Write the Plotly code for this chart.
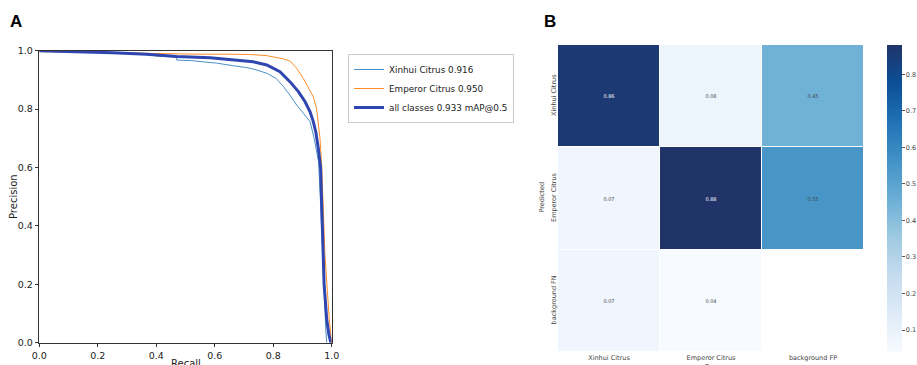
import plotly.graph_objects as go

W, H = 917, 365

# ---------------- Panel A data: PR curves ----------------
xinhui_recall = [0.0, 0.13, 0.25, 0.37, 0.40, 0.47, 0.47, 0.52, 0.55, 0.61, 0.66, 0.71, 0.74, 0.78,
                 0.81, 0.835, 0.857, 0.88, 0.903, 0.926, 0.94, 0.948, 0.955, 0.96, 0.965, 0.97,
                 0.975, 0.98, 0.983]
xinhui_precision = [0.998, 0.996, 0.993, 0.988, 0.982, 0.978, 0.968, 0.966, 0.963, 0.957, 0.949,
                    0.942, 0.935, 0.922, 0.905, 0.877, 0.848, 0.814, 0.786, 0.757, 0.70, 0.66,
                    0.62, 0.52, 0.40, 0.22, 0.12, 0.04, 0.0]

emperor_recall = [0.0, 0.13, 0.25, 0.37, 0.47, 0.55, 0.65, 0.72, 0.778, 0.81, 0.835, 0.857, 0.88,
                  0.903, 0.92, 0.937, 0.948, 0.954, 0.96, 0.966, 0.971, 0.977, 0.985, 0.992, 1.0]
emperor_precision = [0.997, 0.996, 0.994, 0.991, 0.988, 0.988, 0.988, 0.987, 0.983, 0.978, 0.972,
                     0.965, 0.94, 0.905, 0.871, 0.842, 0.803, 0.745, 0.70, 0.60, 0.466, 0.30,
                     0.18, 0.078, 0.0]

all_recall = [0.0, 0.128, 0.25, 0.367, 0.47, 0.584, 0.664, 0.732, 0.778, 0.823, 0.857, 0.886,
              0.909, 0.926, 0.937, 0.946, 0.955, 0.962, 0.968, 0.974, 0.983, 0.99, 0.997]
all_precision = [1.0, 0.997, 0.993, 0.988, 0.98, 0.976, 0.968, 0.962, 0.951, 0.928, 0.894, 0.86,
                 0.825, 0.791, 0.757, 0.72, 0.66, 0.6, 0.4, 0.2, 0.08, 0.03, 0.0]

series_labels = ["Xinhui Citrus 0.916", "Emperor Citrus 0.950", "all classes 0.933 mAP@0.5"]
axis_ticks = [0.0, 0.2, 0.4, 0.6, 0.8, 1.0]

# ---------------- Panel B data: confusion matrix ----------------
true_labels = ["Xinhui Citrus", "Emperor Citrus", "background FP"]
pred_labels = ["Xinhui Citrus", "Emperor Citrus", "background FN"]
cm_row_xinhui = [0.86, 0.08, 0.45]
cm_row_emperor = [0.07, 0.88, 0.55]
cm_row_background = [0.07, 0.04, None]
colorbar_ticks = [0.1, 0.2, 0.3, 0.4, 0.5, 0.6, 0.7, 0.8]

# ---------------- helpers ----------------
def px_x(p):
    return p / W

def px_y(p):
    return 1 - p / H

FONT = "DejaVu Sans"
AX = "#333333"

fig = go.Figure()

fig.add_trace(go.Scatter(x=xinhui_recall, y=xinhui_precision, mode="lines", name=series_labels[0],
                         line=dict(color="#4a8fc6", width=1), xaxis="x", yaxis="y"))
fig.add_trace(go.Scatter(x=emperor_recall, y=emperor_precision, mode="lines", name=series_labels[1],
                         line=dict(color="#ff8c26", width=1), xaxis="x", yaxis="y"))
fig.add_trace(go.Scatter(x=all_recall, y=all_precision, mode="lines", name=series_labels[2],
                         line=dict(color="#2f45b0", width=3), xaxis="x", yaxis="y"))

z = [cm_row_xinhui, cm_row_emperor, cm_row_background]
text = [["" if v is None else f"{v:.2f}" for v in row] for row in z]

blues = [
    [0.0, "#f7fbff"], [0.125, "#deebf7"], [0.25, "#c6dbef"], [0.375, "#9ecae1"],
    [0.5, "#6baed6"], [0.625, "#4292c6"], [0.75, "#2171b5"], [0.875, "#0b4f97"],
    [1.0, "#21346a"],
]

fig.add_trace(go.Heatmap(
    z=z, x=true_labels, y=pred_labels, text=text, texttemplate="%{text}",
    textfont=dict(size=5, family=FONT),
    colorscale=blues, zmin=0.04, zmax=0.88, xgap=1, ygap=1,
    xaxis="x2", yaxis="y2", showscale=True, hoverongaps=False,
    colorbar=dict(
        x=px_x(887), xanchor="left", xref="paper",
        y=px_y(352), yanchor="bottom", yref="paper",
        len=307 / H, lenmode="fraction", thickness=15, xpad=0, ypad=0,
        outlinewidth=0, ticks="outside", ticklen=3, tickcolor="#555",
        tickvals=colorbar_ticks, ticktext=[f"{v:.1f}" for v in colorbar_ticks],
        tickfont=dict(size=6.5, family=FONT, color="#444"),
    ),
))

fig.update_layout(
    width=W, height=H,
    margin=dict(l=0, r=0, t=0, b=0, autoexpand=False),
    paper_bgcolor="white", plot_bgcolor="white",
    font=dict(family=FONT, color="#222"),
    showlegend=True,
    legend=dict(
        x=px_x(348), y=px_y(54), xanchor="left", yanchor="top",
        bordercolor="#cccccc", borderwidth=1, bgcolor="white",
        font=dict(size=8.8, family=FONT, color="#222"),
        tracegroupgap=0, itemwidth=30,
    ),
    xaxis=dict(
        domain=[px_x(39.3), px_x(331.7)], range=[0, 1], anchor="y", automargin=False,
        tickvals=axis_ticks, ticktext=[f"{v:.1f}" for v in axis_ticks],
        showline=True, mirror=True, linecolor=AX, linewidth=1,
        ticks="outside", ticklen=3.5, tickcolor=AX, showgrid=False, zeroline=False,
        tickfont=dict(size=9.5, family=FONT, color="#222"),
    ),
    yaxis=dict(
        domain=[px_y(342.7), px_y(50.7)], range=[0, 1], anchor="x", automargin=False,
        tickvals=axis_ticks, ticktext=[f"{v:.1f}" for v in axis_ticks],
        showline=True, mirror=True, linecolor=AX, linewidth=1,
        ticks="outside", ticklen=3.5, tickcolor=AX, showgrid=False, zeroline=False,
        tickfont=dict(size=9.5, family=FONT, color="#222"),
    ),
    xaxis2=dict(
        domain=[px_x(558), px_x(864)], anchor="y2", showgrid=False, zeroline=False,
        automargin=False, showline=False, ticks="",
        tickfont=dict(size=6.5, family=FONT, color="#444"),
    ),
    yaxis2=dict(
        domain=[px_y(352), px_y(45)], anchor="x2", autorange="reversed", automargin=False,
        showgrid=False, zeroline=False, showline=False, ticks="",
        tickangle=-90, tickfont=dict(size=6.5, family=FONT, color="#444"),
    ),
)

def ann(text, x, y, size, color="#222", family=FONT, angle=0):
    return dict(text=text, x=px_x(x), y=px_y(y), xref="paper", yref="paper",
                xanchor="center", yanchor="middle", showarrow=False, textangle=angle,
                font=dict(size=size, family=family, color=color))

annotations = [
    ann("<b>A</b>", 15.5, 21.5, 17, "black", "Liberation Sans"),
    ann("<b>B</b>", 550, 21.5, 17, "black", "Liberation Sans"),
    ann("Recall", 185.5, 363, 10),
    ann("Precision", 13, 197, 10, angle=-90),
    ann("Predicted", 541.5, 197, 6.5, "#444", angle=-90),
    ann("True", 711, 367, 6.5, "#444"),
]
fig.update_layout(annotations=annotations)

fig.write_html(
    "out.html",
    config={"displayModeBar": False},
    post_script="document.body.style.margin='0';document.body.style.overflow='hidden';",
)
